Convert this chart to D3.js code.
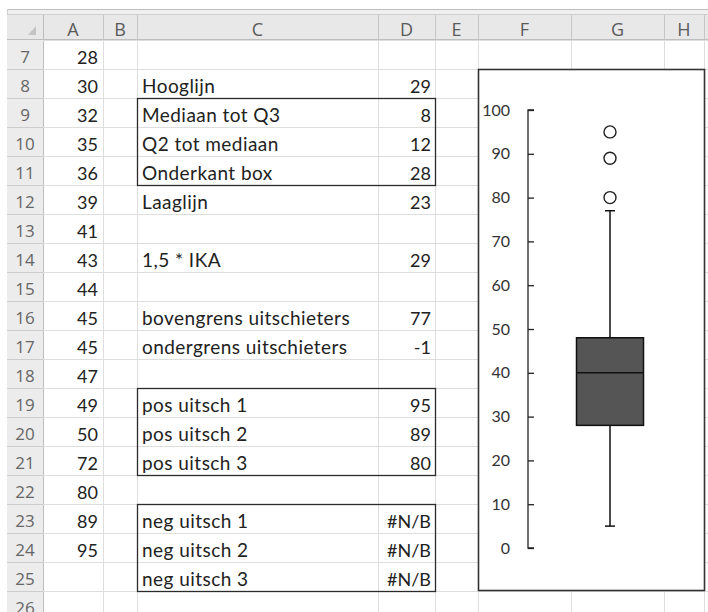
<!DOCTYPE html>
<html>
<head>
<meta charset="utf-8">
<script src="https://cdn.jsdelivr.net/npm/d3@7"></script>
<style>
  html, body { margin: 0; padding: 0; background: #fff; }
  svg { display: block; }
</style>
</head>
<body>
<svg id="sheet" width="708" height="612"></svg>
<script>
// Worksheet contents
const colLetters = ["A", "B", "C", "D", "E", "F", "G", "H"];
const rowNumbers = [7, 8, 9, 10, 11, 12, 13, 14, 15, 16, 17, 18, 19, 20, 21, 22, 23, 24, 25, 26];
const columnA = [28, 30, 32, 35, 36, 39, 41, 43, 44, 45, 45, 47, 49, 50, 72, 80, 89, 95];
const labelRows = [8, 9, 10, 11, 12, 14, 16, 17, 19, 20, 21, 23, 24, 25];
const labels = ["Hooglijn", "Mediaan tot Q3", "Q2 tot mediaan", "Onderkant box", "Laaglijn",
  "1,5 * IKA", "bovengrens uitschieters", "ondergrens uitschieters",
  "pos uitsch 1", "pos uitsch 2", "pos uitsch 3",
  "neg uitsch 1", "neg uitsch 2", "neg uitsch 3"];
const valuesD = ["29", "8", "12", "28", "23", "29", "77", "-1", "95", "89", "80", "#N/B", "#N/B", "#N/B"];
const borderedBlocks = [[9, 11], [19, 21], [23, 25]];

// Box plot series (stacked segments) and outliers
const boxBottom = 28;      // Onderkant box
const q2ToMedian = 12;     // Q2 tot mediaan
const medianToQ3 = 8;      // Mediaan tot Q3
const upperWhisker = 29;   // Hooglijn
const lowerWhisker = 23;   // Laaglijn
const outliers = [95, 89, 80];
const yTicks = [0, 10, 20, 30, 40, 50, 60, 70, 80, 90, 100];

// Grid geometry: left edge, row-header edge, then the left edge of each column A..I
const colEdges = [7, 43, 103, 137, 378, 435, 478, 571, 664, 704, 760];
const headerTop = 15, headerBottom = 40, rowH = 29;
const rowTop = r => headerBottom + (r - 7) * rowH;
const rowMid = r => rowTop(r) + rowH / 2;

const svg = d3.select("#sheet");
const W = 708, H = 612;

const cellFont = "Lato, 'Noto Sans', sans-serif";
const headFont = "'Open Sans', 'Noto Sans', sans-serif";

// top strip above the column headers
svg.append("rect").attr("x", 7).attr("y", 9).attr("width", W - 7).attr("height", headerBottom - 9)
  .attr("fill", "#efefef");
svg.append("line").attr("x1", 7).attr("x2", W).attr("y1", 9.5).attr("y2", 9.5)
  .attr("stroke", "#bcbcbc");
svg.append("line").attr("x1", 7).attr("x2", W).attr("y1", headerTop - 0.5).attr("y2", headerTop - 0.5)
  .attr("stroke", "#cfcfcf");
svg.append("line").attr("x1", 7.5).attr("x2", 7.5).attr("y1", 9).attr("y2", H)
  .attr("stroke", "#cfcfcf");

// column header cells
const headerG = svg.append("g");
headerG.append("rect").attr("x", 7).attr("y", headerTop).attr("width", W - 7).attr("height", headerBottom - headerTop)
  .attr("fill", "#e8e8e8");
// row header column
headerG.append("rect").attr("x", 7).attr("y", headerBottom).attr("width", colEdges[1] - 7).attr("height", H - headerBottom)
  .attr("fill", "#ececec");

// corner triangle
headerG.append("path")
  .attr("d", `M${colEdges[1] - 7},${headerTop + 11} L${colEdges[1] - 7},${headerBottom - 5} L${colEdges[1] - 15},${headerBottom - 5} Z`)
  .attr("fill", "#c4c4c4");

// gridlines in the cell area
const grid = svg.append("g");
const rowLines = d3.range(7, 28).map(rowTop);
grid.selectAll("line.h").data(rowLines).join("line")
  .attr("x1", colEdges[1]).attr("x2", W)
  .attr("y1", d => d + 0.5).attr("y2", d => d + 0.5)
  .attr("stroke", "#dedede");
grid.selectAll("line.v").data(colEdges.slice(2)).join("line")
  .attr("x1", d => d + 0.5).attr("x2", d => d + 0.5)
  .attr("y1", headerBottom).attr("y2", H)
  .attr("stroke", "#dedede");

// header separators
headerG.selectAll("line.hs").data(colEdges.slice(1)).join("line")
  .attr("x1", d => d + 0.5).attr("x2", d => d + 0.5)
  .attr("y1", headerTop).attr("y2", headerBottom)
  .attr("stroke", "#c6c6c6");
headerG.append("line").attr("x1", 7).attr("x2", W).attr("y1", headerBottom - 0.5).attr("y2", headerBottom - 0.5)
  .attr("stroke", "#bdbdbd");
headerG.selectAll("line.rs").data(rowLines.slice(1)).join("line")
  .attr("x1", 7).attr("x2", colEdges[1])
  .attr("y1", d => d + 0.5).attr("y2", d => d + 0.5)
  .attr("stroke", "#cdcdcd");
headerG.append("line").attr("x1", colEdges[1] + 0.5).attr("x2", colEdges[1] + 0.5)
  .attr("y1", headerTop).attr("y2", H).attr("stroke", "#bdbdbd");

// column letters
headerG.selectAll("text.col").data(colLetters).join("text")
  .attr("x", (d, i) => (colEdges[i + 1] + colEdges[i + 2]) / 2)
  .attr("y", (headerTop + headerBottom) / 2 + 1)
  .attr("dominant-baseline", "central")
  .attr("text-anchor", "middle")
  .attr("font-family", headFont).attr("font-size", 18).attr("fill", "#5a5a5a")
  .text(d => d);

// row numbers
headerG.selectAll("text.row").data(rowNumbers).join("text")
  .attr("x", (7 + colEdges[1]) / 2)
  .attr("y", d => rowMid(d) + 2)
  .attr("dominant-baseline", "central")
  .attr("text-anchor", "middle")
  .attr("font-family", headFont).attr("font-size", 17).attr("fill", "#666")
  .text(d => d);

// column A values
const cells = svg.append("g").attr("font-family", cellFont).attr("font-size", 18).attr("fill", "#222");
cells.selectAll("text.a").data(columnA).join("text")
  .attr("x", colEdges[2] - 5)
  .attr("y", (d, i) => rowMid(7 + i) + 2)
  .attr("dominant-baseline", "central")
  .attr("text-anchor", "end")
  .text(d => d);

// labels in column C
cells.selectAll("text.c").data(labels).join("text")
  .attr("x", colEdges[3] + 5)
  .attr("y", (d, i) => rowMid(labelRows[i]) + 2)
  .attr("dominant-baseline", "central")
  .attr("font-size", 19)
  .attr("letter-spacing", 0.45)
  .text(d => d);

// values in column D
cells.selectAll("text.d").data(valuesD).join("text")
  .attr("x", colEdges[5] - 4)
  .attr("y", (d, i) => rowMid(labelRows[i]) + 2)
  .attr("dominant-baseline", "central")
  .attr("text-anchor", "end")
  .text(d => d);

// bordered blocks around C:D
svg.append("g").selectAll("rect").data(borderedBlocks).join("rect")
  .attr("x", colEdges[3] + 0.5)
  .attr("y", d => rowTop(d[0]) + 0.5)
  .attr("width", colEdges[5] - colEdges[3])
  .attr("height", d => rowTop(d[1] + 1) - rowTop(d[0]))
  .attr("fill", "none").attr("stroke", "#2b2b2b").attr("stroke-width", 1.3);

// ---- Box plot chart object ----
const chart = { x: 478, y: 69, w: 226, h: 521 };
const chartG = svg.append("g");
chartG.append("rect")
  .attr("x", chart.x + 0.5).attr("y", chart.y + 0.5)
  .attr("width", chart.w).attr("height", chart.h)
  .attr("fill", "#fff").attr("stroke", "#333").attr("stroke-width", 1.6);

const y = d3.scaleLinear().domain([0, 100]).range([548, 110]);
const axisX = 528;
const axis = d3.axisLeft(y).tickValues(yTicks).tickSize(-6).tickPadding(16);
const axisG = chartG.append("g").attr("transform", `translate(${axisX},0)`).call(axis);
// ticks point inward (to the right)
axisG.selectAll(".tick line").attr("stroke", "#222").attr("stroke-width", 1.3).attr("x2", 6);
axisG.select(".domain").attr("stroke", "#222").attr("stroke-width", 1.3)
  .attr("d", `M6,${y(100)}H0V${y(0)}H6`);
axisG.selectAll(".tick text")
  .attr("font-family", cellFont).attr("font-size", 16).attr("fill", "#333")
  .attr("x", -18);

// box plot derived from the stacked series
const q1 = boxBottom;
const med = q1 + q2ToMedian;
const q3 = med + medianToQ3;
const hi = q3 + upperWhisker;
const lo = q1 - lowerWhisker;
const cx = 610, boxW = 67, capW = 10;

const bp = chartG.append("g").attr("stroke", "#111").attr("stroke-width", 1.5);
bp.append("line").attr("x1", cx).attr("x2", cx).attr("y1", y(hi)).attr("y2", y(q3));
bp.append("line").attr("x1", cx).attr("x2", cx).attr("y1", y(q1)).attr("y2", y(lo));
bp.append("line").attr("x1", cx - capW / 2).attr("x2", cx + capW / 2).attr("y1", y(hi)).attr("y2", y(hi));
bp.append("line").attr("x1", cx - capW / 2).attr("x2", cx + capW / 2).attr("y1", y(lo)).attr("y2", y(lo));
bp.append("rect")
  .attr("x", cx - boxW / 2).attr("y", y(q3))
  .attr("width", boxW).attr("height", y(q1) - y(q3))
  .attr("fill", "#555555");
bp.append("line").attr("x1", cx - boxW / 2).attr("x2", cx + boxW / 2).attr("y1", y(med)).attr("y2", y(med));

bp.selectAll("circle").data(outliers).join("circle")
  .attr("cx", cx).attr("cy", d => y(d)).attr("r", 6)
  .attr("fill", "#fff").attr("stroke", "#222").attr("stroke-width", 1.4);
</script>
</body>
</html>
